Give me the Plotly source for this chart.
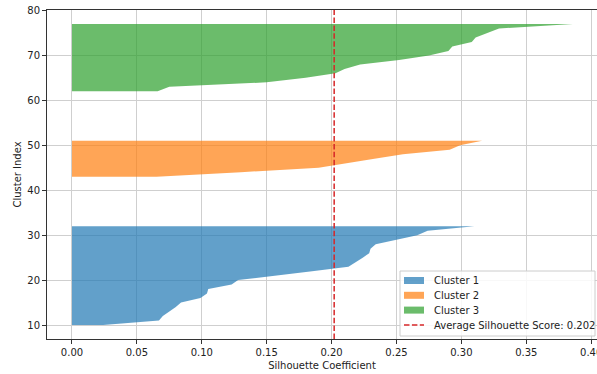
import plotly.graph_objects as go

# Sorted silhouette values per cluster (bottom to top)
cluster1_values = [0.024, 0.067, 0.070, 0.075, 0.080, 0.084, 0.099, 0.104, 0.105, 0.123,
                   0.128, 0.157, 0.185, 0.213, 0.218, 0.224, 0.229, 0.230, 0.234, 0.250,
                   0.266, 0.274, 0.310]
cluster2_values = [0.065, 0.130, 0.190, 0.210, 0.233, 0.255, 0.291, 0.299, 0.316]
cluster3_values = [0.066, 0.075, 0.150, 0.180, 0.203, 0.210, 0.222, 0.252, 0.275, 0.290,
                   0.293, 0.308, 0.311, 0.320, 0.329, 0.386]
cluster_names = ["Cluster 1", "Cluster 2", "Cluster 3"]
cluster_colors = ["#1f77b4", "#ff7f0e", "#2ca02c"]
avg_score = 0.202
avg_label = f"Average Silhouette Score: {avg_score:.3f}"
x_ticks = [0.0, 0.05, 0.10, 0.15, 0.20, 0.25, 0.30, 0.35, 0.40]
y_ticks = [10, 20, 30, 40, 50, 60, 70, 80]

x_range = [-0.01925, 0.4045]
y_range = [6.9, 80.1]

# plot-area geometry in pixels (for placing the legend)
W, H = 597, 374
ML, MR, MT, MB = 47, 0, 10, 35
PW, PH = W - ML - MR, H - MT - MB
DASH = "5.5px,2.4px"


def px_x(p):
    return (p - ML) / PW


def px_y(p):
    return (H - MB - p) / PH


fig = go.Figure()
y_lower = 10
for name, color, vals in zip(cluster_names, cluster_colors,
                             [cluster1_values, cluster2_values, cluster3_values]):
    ys = list(range(y_lower, y_lower + len(vals)))
    px = [0] * len(ys) + list(reversed(vals))
    py = ys + list(reversed(ys))
    fig.add_trace(go.Scatter(x=px, y=py, fill="toself", mode="lines",
                             line=dict(width=0, color=color), fillcolor=color,
                             opacity=0.7, name=name, hoverinfo="skip", showlegend=False))
    y_lower = y_lower + len(vals) + 10

fig.add_trace(go.Scatter(x=[avg_score, avg_score], y=y_range, mode="lines",
                         line=dict(color="#d62728", width=1.5, dash=DASH),
                         name=avg_label, showlegend=False))

# Custom matplotlib-style legend (lower right)
shapes = [dict(type="rect", xref="paper", yref="paper",
               x0=px_x(400), x1=px_x(595), y0=px_y(336), y1=px_y(271),
               fillcolor="rgba(255,255,255,0.85)", line=dict(color="#cccccc", width=1),
               layer="above")]
annotations = []
row_y = [280.5, 295.3, 310.1, 325.0]
for i, (name, color) in enumerate(zip(cluster_names, cluster_colors)):
    shapes.append(dict(type="rect", xref="paper", yref="paper",
                       x0=px_x(404), x1=px_x(424), y0=px_y(row_y[i] + 3.5), y1=px_y(row_y[i] - 3.5),
                       fillcolor=color, opacity=0.7, line=dict(width=0), layer="above"))
    annotations.append(dict(text=name, xref="paper", yref="paper", x=px_x(432), y=px_y(row_y[i]),
                            xanchor="left", yanchor="middle", showarrow=False,
                            font=dict(size=10, color="#222222")))
shapes.append(dict(type="line", xref="paper", yref="paper",
                   x0=px_x(404), x1=px_x(424), y0=px_y(row_y[3]), y1=px_y(row_y[3]),
                   line=dict(color="#d62728", width=1.5, dash=DASH), layer="above"))
annotations.append(dict(text=avg_label, xref="paper", yref="paper", x=px_x(432), y=px_y(row_y[3]),
                        xanchor="left", yanchor="middle", showarrow=False,
                        font=dict(size=10, color="#222222")))

axis_common = dict(showline=True, linecolor="#333333", linewidth=1, mirror=True,
                   showgrid=True, gridcolor="#cfcfcf", gridwidth=1, zeroline=False,
                   ticks="outside", ticklen=4, tickcolor="#333333", automargin=False,
                   ticklabeloverflow="allow",
                   tickfont=dict(size=10, color="#222222"))

fig.update_layout(
    width=W, height=H,
    margin=dict(l=ML, r=MR, t=MT, b=MB),
    plot_bgcolor="white", paper_bgcolor="white",
    font=dict(family="DejaVu Sans", size=10, color="#222222"),
    xaxis=dict(range=x_range, tickvals=x_ticks, tickformat=".2f",
               title=dict(text="Silhouette Coefficient", font=dict(size=10), standoff=4),
               **axis_common),
    yaxis=dict(range=y_range, tickvals=y_ticks,
               title=dict(text="Cluster Index", font=dict(size=10), standoff=3),
               **axis_common),
    shapes=shapes,
    annotations=annotations,
    showlegend=False,
)

fig.write_html("out.html", config={"displayModeBar": False},
               post_script="document.body.style.margin='0px';document.body.style.overflow='hidden';")
